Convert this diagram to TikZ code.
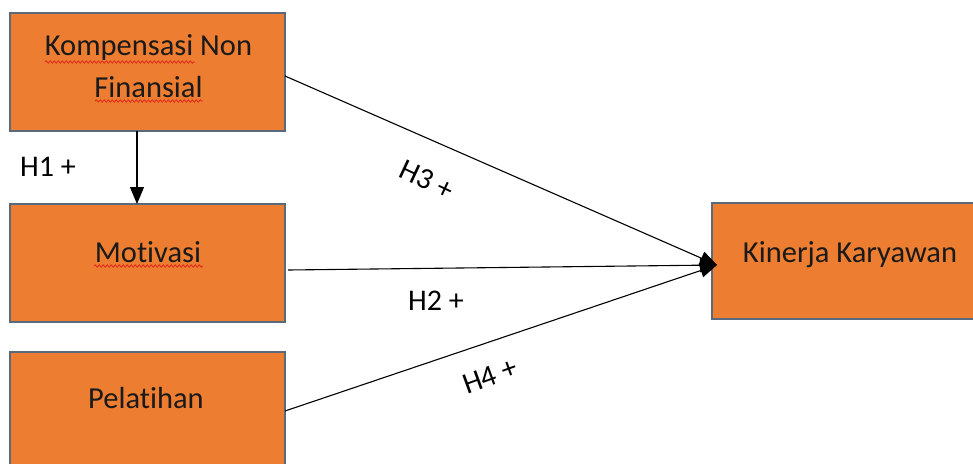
\documentclass[tikz,border=0pt]{standalone}
\usepackage{fontspec}
\setmainfont[Ligatures=NoCommon]{Carlito}
\usetikzlibrary{arrows.meta,decorations.pathmorphing}
\definecolor{boxfill}{HTML}{ED7D31}
\definecolor{boxline}{HTML}{5A6A7E}
\definecolor{txt}{HTML}{1A1A1A}
\definecolor{spell}{HTML}{E02A1A}
\tikzset{
  box/.style={draw=boxline, line width=2.4pt, fill=boxfill, rectangle,
    minimum width=275pt, minimum height=118pt, inner sep=0pt, outer sep=0pt},
  txtlbl/.style={font=\fontsize{30.5}{36}\selectfont, text=txt, inner sep=0pt, anchor=base},
  hyplbl/.style={font=\fontsize{30}{35}\selectfont, text=black, inner sep=0pt},
  conn/.style={draw=black, line width=1.1pt},
  arr/.style={conn, -{Triangle[length=17pt,width=14pt]}},
  wavy/.style={draw=spell, line width=0.8pt, decorate,
    decoration={snake, amplitude=1.2pt, segment length=4pt}}
}
\begin{document}
\begin{tikzpicture}[x=1pt,y=-1pt]
\useasboundingbox (0,0) rectangle (973,463);
\clip (0,0) rectangle (973,463);
\fill[white] (0,0) rectangle (973,463);

% boxes
\node[box] (komp) at (147.5,72) {};
\node[box] (mot) at (147.5,263) {};
\node[box] (pel) at (147.5,411) {};
\node[box, minimum width=280pt, minimum height=116pt] (kin) at (852,261) {};

% box texts
\node[txtlbl] (kompa) at (148.5,55) {Kompensasi Non};
\node[txtlbl] (kompb) at (148.5,97) {Finansial};
\node[txtlbl] (mott) at (148,262) {Motivasi};
\node[txtlbl] (pelt) at (146,408) {Pelatihan};
\node[txtlbl] (kint) at (850,262) {Kinerja Karyawan};

% spell-check underlines
\draw[wavy] (45,62) -- (195,62);
\draw[wavy] (95,101) -- (203,101);
\draw[wavy] (94,266) -- (203,266);

% connectors
\coordinate (tip) at ([xshift=5pt,yshift=-4pt]kin.west);
\draw[arr] ([xshift=-10.5pt]komp.south) -- ([xshift=-10.5pt]mot.north);
\draw[arr] ([yshift=-4pt]komp.east) -- (tip);
\draw[arr] ([xshift=3pt,yshift=-7pt]mot.east) -- (tip);
\draw[arr] (pel.east) -- (tip);

% hypothesis labels
\node[hyplbl, anchor=base west] (h1) at (20,176) {H1 +};
\node[hyplbl, anchor=base west] (h2) at (408,310) {H2 +};
\node[hyplbl, rotate=-25] (h3) at (427,180) {H3 +};
\node[hyplbl, rotate=20] (h4) at (490,376) {H4 +};
\end{tikzpicture}
\end{document}
